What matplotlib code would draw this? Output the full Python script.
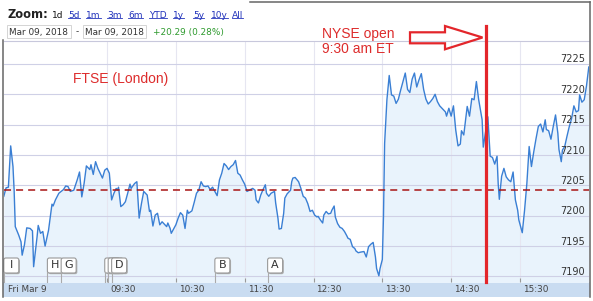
import matplotlib
matplotlib.use("Agg")
import matplotlib.pyplot as plt
from matplotlib.patches import Polygon, Rectangle, FancyBboxPatch
from matplotlib.lines import Line2D
from matplotlib.transforms import IdentityTransform

# FTSE 100 intraday, Fri 9 Mar 2018 (minutes after 08:00)
minutes = [0, 2, 4, 6, 8, 9, 10, 13, 15, 16, 18, 20, 23, 25, 26, 29, 30, 32, 34, 36,
           39, 42, 43, 45, 48, 50, 52, 54, 56, 58, 61, 64, 66, 68, 70, 72, 75, 76, 78, 80,
           82, 84, 86, 88, 90, 92, 94, 96, 98, 99, 100, 102, 104, 106, 108, 110, 111, 114, 116, 118,
           120, 122, 125, 127, 128, 130, 132, 134, 136, 138, 140, 142, 143, 145, 146, 148, 150, 152, 154, 156,
           158, 160, 161, 164, 166, 168, 170, 172, 174, 176, 178, 180, 182, 184, 186, 188, 190, 192, 194, 196,
           198, 200, 202, 204, 206, 208, 210, 212, 215, 217, 219, 220, 222, 224, 226, 228, 229, 231, 233, 236,
           237, 239, 240, 242, 244, 245, 247, 250, 251, 252, 254, 257, 259, 261, 263, 265, 267, 269, 271, 273,
           274, 276, 278, 279, 281, 283, 285, 286, 288, 289, 291, 293, 295, 297, 299, 300, 302, 304, 306, 307,
           309, 311, 314, 316, 318, 320, 322, 324, 325, 327, 328, 330, 331, 332, 334, 336, 338, 340, 342, 344,
           346, 348, 350, 352, 354, 356, 358, 360, 362, 364, 366, 368, 370, 372, 374, 376, 378, 380, 383, 385,
           386, 388, 390, 392, 394, 396, 398, 399, 401, 404, 406, 408, 410, 412, 414, 417, 418, 422, 423, 424,
           426, 428, 430, 431, 432, 434, 436, 438, 440, 442, 444, 446, 448, 449, 452, 454, 456, 458, 460, 462,
           464, 466, 468, 470, 472, 473, 475, 477, 479, 481, 483, 484, 486, 487, 489, 491, 493, 495, 497, 499,
           501, 502, 504, 506, 508, 509, 510]
price = [7203.2, 7204.6, 7204.7, 7211.5, 7208.1, 7204.2, 7198.2, 7196.8, 7195.7, 7193.5,
         7195.2, 7198.0, 7197.9, 7197.5, 7191.6, 7196.5, 7198.4, 7197.1, 7197.4, 7195.0,
         7197.6, 7201.9, 7201.6, 7202.6, 7203.7, 7204.0, 7204.3, 7204.9, 7204.8, 7204.0,
         7204.2, 7205.9, 7207.2, 7203.1, 7205.3, 7208.2, 7207.6, 7208.4, 7206.8, 7208.9,
         7207.8, 7207.0, 7206.2, 7207.5, 7207.8, 7207.0, 7202.6, 7203.7, 7204.5, 7204.2,
         7204.7, 7201.5, 7201.8, 7202.3, 7203.7, 7205.2, 7204.5, 7205.3, 7205.6, 7199.6,
         7202.0, 7204.0, 7203.4, 7200.7, 7200.9, 7198.3, 7200.1, 7200.4, 7198.5, 7199.0,
         7198.6, 7198.2, 7198.8, 7197.9, 7197.1, 7197.8, 7198.5, 7199.6, 7200.5, 7200.1,
         7197.9, 7200.9, 7200.4, 7200.8, 7202.2, 7203.7, 7204.2, 7205.6, 7204.9, 7204.8,
         7204.9, 7204.3, 7204.7, 7204.0, 7203.3, 7205.9, 7207.0, 7208.6, 7208.2, 7207.6,
         7208.1, 7208.4, 7209.1, 7207.0, 7206.7, 7205.9, 7205.2, 7204.0, 7204.3, 7204.5,
         7204.2, 7202.6, 7202.1, 7203.4, 7204.3, 7205.1, 7203.7, 7203.2, 7203.7, 7204.0,
         7202.1, 7199.6, 7197.8, 7197.9, 7200.4, 7202.9, 7203.6, 7204.2, 7205.6, 7206.2,
         7206.3, 7205.6, 7204.5, 7203.2, 7202.9, 7202.0, 7200.7, 7200.9, 7200.1, 7199.8,
         7199.9, 7199.3, 7198.8, 7200.1, 7200.7, 7200.3, 7200.4, 7200.9, 7201.6, 7199.8,
         7198.7, 7198.1, 7197.9, 7197.4, 7196.7, 7196.3, 7196.1, 7194.9, 7194.6, 7194.2,
         7193.9, 7194.0, 7194.1, 7193.2, 7194.9, 7195.3, 7195.6, 7193.2, 7191.3, 7190.1,
         7191.3, 7192.8, 7199.8, 7211.9, 7219.1, 7223.1, 7219.9, 7219.7, 7218.5, 7219.2,
         7220.7, 7222.1, 7223.5, 7220.8, 7220.3, 7222.5, 7223.5, 7221.2, 7222.4, 7223.4,
         7220.8, 7219.2, 7218.4, 7218.8, 7219.3, 7220.0, 7218.8, 7218.1, 7217.5, 7217.1,
         7216.4, 7217.7, 7216.4, 7218.1, 7214.1, 7211.5, 7211.8, 7214.0, 7213.3, 7218.0,
         7216.4, 7219.3, 7219.1, 7222.1, 7219.1, 7215.8, 7211.3, 7216.3, 7213.0, 7209.8,
         7209.6, 7208.5, 7209.8, 7205.3, 7202.7, 7206.5, 7207.8, 7206.4, 7205.9, 7205.6,
         7207.2, 7202.6, 7200.9, 7199.3, 7197.2, 7200.9, 7205.3, 7211.4, 7208.1, 7210.5,
         7212.7, 7214.7, 7215.1, 7213.8, 7215.8, 7214.2, 7214.0, 7212.6, 7214.7, 7216.6,
         7213.6, 7210.9, 7208.9, 7210.8, 7211.4, 7213.1, 7214.7, 7216.0, 7218.1, 7217.1,
         7217.3, 7219.9, 7218.7, 7219.1, 7221.4, 7222.9, 7224.5]
prev_close = 7204.3
nyse_open = 420  # 15:00 on this axis

y_ticks = [7190, 7195, 7200, 7205, 7210, 7215, 7220, 7225]
x_ticks = [90, 150, 210, 270, 330, 390, 450]
x_tick_labels = ["09:30", "10:30", "11:30", "12:30", "13:30", "14:30", "15:30"]
# two flags hidden under "D" only show their edges
flag_minutes = [0, 38, 50, 88, 91, 94, 184, 230]
flag_labels = ["I", "H", "G", "", "", "D", "B", "A"]
zoom_buttons = ["1d", "5d", "1m", "3m", "6m", "YTD", "1y", "5y", "10y", "All"]
zoom_x = [52, 68, 86, 107, 128, 149, 173, 193, 211, 232]

W, H = 593, 301
fig = plt.figure(figsize=(W / 100, H / 100), dpi=100)
pix = IdentityTransform()

ax = fig.add_axes([3.8 / W, 1 - 282 / H, 585 / W, 241 / H])
ax.set_xlim(0, 510)
ax.set_ylim(7189.08, 7228.78)

ax.fill_between(minutes, price, 7180, color="#e9f3fc", lw=0)
ax.plot(minutes, price, color="#3a7fd4", lw=1.0, zorder=3)
ax.axhline(prev_close, color="#a81515", lw=1.1, ls=(0, (4.6, 3.3)), zorder=4)
ax.axvline(nyse_open, ymin=0, ymax=(282 - 26) / 241, color="#e3262b", lw=2.3,
           clip_on=False, zorder=6)

ax.set_yticks(y_ticks)
ax.set_xticks(x_ticks)
ax.grid(axis="y", color="#cfd0e6", lw=0.8)
ax.grid(axis="x", color="#e6e6f1", lw=0.8)
ax.tick_params(axis="y", length=0, labelleft=False)
ax.tick_params(axis="x", direction="in", length=3, color="#999999", labelbottom=False)
for s in ["left", "right", "bottom"]:
    ax.spines[s].set_visible(False)
ax.spines["top"].set_color("#c8c8dc")
ax.spines["top"].set_linewidth(0.8)

# y labels inside, right side
for v in y_ticks:
    ax.annotate(str(v), xy=(1, v), xycoords=("axes fraction", "data"),
                xytext=(-4, 1.5), textcoords="offset pixels", ha="right", va="baseline",
                fontsize=7, color="#333333")

# x axis band and labels
fig.add_artist(Rectangle((3, H - 297), 587, 15, transform=pix, fc="#c9dcf1", ec="none", zorder=0))
for t, lab in zip(x_ticks, x_tick_labels):
    ax.annotate(lab, xy=(t, 0), xycoords=("data", "axes fraction"), xytext=(3, -10),
                textcoords="offset pixels", ha="left", va="baseline", fontsize=6.4,
                color="#444444", annotation_clip=False)
ax.annotate("Fri Mar 9", xy=(0, 0), xycoords=("data", "axes fraction"), xytext=(4, -10),
            textcoords="offset pixels", ha="left", va="baseline", fontsize=6.4,
            color="#444444", annotation_clip=False)

# widget borders
fig.add_artist(Line2D([3, 3], [H - 40, H - 297], transform=pix, color="#666666", lw=1.1))
fig.add_artist(Line2D([590, 590], [H - 1.5, H - 297], transform=pix, color="#666666", lw=1.1))
fig.add_artist(Line2D([250, 590], [H - 1.5, H - 1.5], transform=pix, color="#666666", lw=1.1))

# event flags
for t, lab in zip(flag_minutes, flag_labels):
    fx = ax.transData.transform((t, 7200))[0]
    fig.add_artist(Line2D([fx, fx], [H - 272, H - 282], transform=pix, color="#aaaaaa", lw=0.8))
    fig.add_artist(FancyBboxPatch((fx + 1.2, H - 274.2), 15, 15, boxstyle="round,pad=0,rounding_size=2",
                                  transform=pix, fc="#b0b0b0", ec="none"))
    fig.add_artist(FancyBboxPatch((fx, H - 273), 15, 15, boxstyle="round,pad=0,rounding_size=2",
                                  transform=pix, fc="white", ec="#999999", lw=0.8))
    if lab:
        fig.text(fx + 7.5, H - 265.5, lab, transform=pix, ha="center", va="center",
                 fontsize=8, color="#333333")

# annotations
red = "#dd2c2c"
fig.text(73, H - 83.5, "FTSE (London)", transform=pix, color=red, fontsize=10,
         family="Liberation Sans", va="baseline")
fig.text(322, H - 38.3, "NYSE open", transform=pix, color=red, fontsize=10,
         family="Liberation Sans", va="baseline")
fig.text(322, H - 53.3, "9:30 am ET", transform=pix, color=red, fontsize=10,
         family="Liberation Sans", va="baseline")
arrow = [(410, 32.3), (445, 32.3), (445, 26), (482.5, 37.5), (445, 49.3), (445, 43.3), (410, 43.3)]
fig.add_artist(Polygon([(x, H - y) for x, y in arrow], closed=True, transform=pix,
                       fc="none", ec="#e3262b", lw=1.6, joinstyle="miter"))

# toolbar
fig.text(8, H - 15, "Zoom:", transform=pix, fontsize=8.3, weight="bold", color="#222222", va="center")
links = []
for x, lab in zip(zoom_x, zoom_buttons):
    c = "#111111" if lab == "1d" else "#2233bb"
    t = fig.text(x, H - 15, lab, transform=pix, fontsize=6.5, color=c, va="center")
    if lab != "1d":
        links.append(t)
for x0, x1 in [(7, 71), (83, 146)]:
    fig.add_artist(Rectangle((x0, H - 38), x1 - x0, 13, transform=pix, fc="white", ec="#d4d4d4", lw=0.7))
fig.text(9, H - 32, "Mar 09, 2018", transform=pix, fontsize=6.4, color="#333333", va="center")
fig.text(76, H - 32, "-", transform=pix, fontsize=6.4, color="#333333", va="center")
fig.text(85, H - 32, "Mar 09, 2018", transform=pix, fontsize=6.4, color="#333333", va="center")
fig.text(153, H - 32, "+20.29 (0.28%)", transform=pix, fontsize=6.4, color="#2e9a2e", va="center")

fig.canvas.draw()
r = fig.canvas.get_renderer()
for t in links:
    bb = t.get_window_extent(r)
    fig.add_artist(Line2D([bb.x0, bb.x1], [bb.y0 + 1.5, bb.y0 + 1.5], transform=pix,
                          color="#2233bb", lw=0.6))

fig.savefig("out.png", dpi=100)
